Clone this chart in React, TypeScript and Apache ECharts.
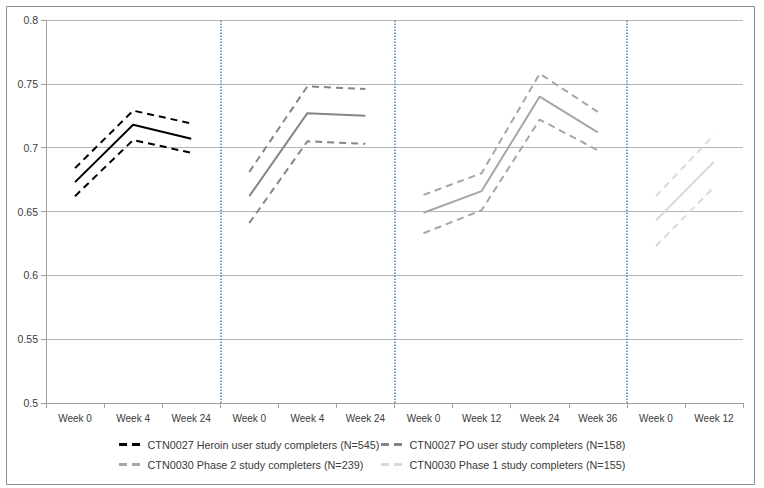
import React, { useEffect, useRef } from "react";
import * as echarts from "echarts";

const categories = [
  "Week 0", "Week 4", "Week 24",
  "Week 0", "Week 4", "Week 24",
  "Week 0", "Week 12", "Week 24", "Week 36",
  "Week 0", "Week 12",
];

const groupNames = [
  "CTN0027 Heroin user study completers (N=545)",
  "CTN0027 PO user study completers (N=158)",
  "CTN0030 Phase 2 study completers (N=239)",
  "CTN0030 Phase 1 study completers (N=155)",
];
const groupOffsets = [0, 3, 6, 10];
const groupColors = ["#000000", "#868686", "#a6a6a6", "#d9d9d9"];

const heroinMean = [0.673, 0.718, 0.707];
const heroinUpper = [0.684, 0.729, 0.719];
const heroinLower = [0.662, 0.706, 0.696];

const poMean = [0.662, 0.727, 0.725];
const poUpper = [0.681, 0.748, 0.746];
const poLower = [0.641, 0.705, 0.703];

const phase2Mean = [0.649, 0.666, 0.740, 0.712];
const phase2Upper = [0.663, 0.680, 0.758, 0.728];
const phase2Lower = [0.633, 0.651, 0.722, 0.698];

const phase1Mean = [0.643, 0.689];
const phase1Upper = [0.662, 0.710];
const phase1Lower = [0.623, 0.669];

const groupData = [
  [heroinMean, heroinUpper, heroinLower],
  [poMean, poUpper, poLower],
  [phase2Mean, phase2Upper, phase2Lower],
  [phase1Mean, phase1Upper, phase1Lower],
];

const yTicks = { min: 0.5, max: 0.8, interval: 0.05 };
// study boundaries, measured in category slots from the left edge
const dividerPositions = [3, 6, 10];

const FONT = "'Liberation Sans', Arial, sans-serif";
const TEXT_COLOR = "#3a3a3a";
const DASH_ICON = "path://M0,0h8v3h-8z M13,0h8v3h-8z";

function pad(values: number[], offset: number): (number | null)[] {
  const out: (number | null)[] = categories.map(() => null);
  values.forEach((v, i) => {
    out[offset + i] = v;
  });
  return out;
}

export default function App() {
  const ref = useRef<HTMLDivElement>(null);
  useEffect(() => {
    if (!ref.current) return;
    const chart = echarts.init(ref.current, undefined, { renderer: "svg" });
    const series: any[] = [];
    groupData.forEach((g, gi) => {
      const [mean, upper, lower] = g;
      const color = groupColors[gi];
      const off = groupOffsets[gi];
      series.push({
        name: groupNames[gi],
        type: "line",
        data: pad(upper, off),
        symbol: "none",
        lineStyle: { color, width: 2, type: [7, 5] },
        itemStyle: { color, borderWidth: 0 },
        z: 3,
      });
      series.push({
        name: groupNames[gi] + " lower",
        type: "line",
        data: pad(lower, off),
        symbol: "none",
        lineStyle: { color, width: 2, type: [7, 5] },
        itemStyle: { color },
        z: 3,
      });
      series.push({
        name: groupNames[gi] + " mean",
        type: "line",
        data: pad(mean, off),
        symbol: "none",
        lineStyle: { color, width: 2 },
        itemStyle: { color },
        z: 3,
      });
    });

    series.push({
      name: "dividers",
      type: "line",
      xAxisIndex: 1,
      data: [[0, null]],
      symbol: "none",
      silent: true,
      markLine: {
        silent: true,
        symbol: "none",
        label: { show: false },
        lineStyle: { color: "#4f81bd", type: [1.5, 1.5], width: 1.5 },
        data: dividerPositions.map((p) => ({ xAxis: p })),
      },
      z: 2,
    });

    const legendCommon = {
      orient: "vertical",
      top: 439,
      padding: 0,
      itemGap: 9,
      itemWidth: 26,
      itemHeight: 3,
      icon: DASH_ICON,
      itemStyle: { borderWidth: 0 },
      textStyle: { fontFamily: FONT, fontSize: 10.8, color: TEXT_COLOR },
      selectedMode: false,
    };

    chart.setOption({
      animation: false,
      backgroundColor: "#ffffff",
      grid: { left: 46, right: 21, top: 20, bottom: 85, containLabel: false },
      graphic: [
        {
          type: "rect",
          shape: { x: 6.5, y: 6.5, width: 748, height: 478 },
          style: { fill: "none", stroke: "#8f8f8f", lineWidth: 1 },
          silent: true,
        },
      ],
      legend: [
        { ...legendCommon, left: 119, data: [groupNames[0], groupNames[2]] },
        { ...legendCommon, left: 381, data: [groupNames[1], groupNames[3]] },
      ],
      xAxis: [
        {
          type: "category",
          data: categories,
          boundaryGap: true,
          axisLine: { show: true, lineStyle: { color: "#a0a0a0", width: 1 } },
          axisTick: { show: true, length: 5, lineStyle: { color: "#a0a0a0" } },
          axisLabel: {
            interval: 0,
            fontFamily: FONT,
            fontSize: 10,
            color: TEXT_COLOR,
            margin: 10,
          },
          splitLine: { show: false },
        },
        {
          type: "value",
          min: 0,
          max: categories.length,
          show: false,
          splitLine: { show: false },
        },
      ],
      yAxis: {
        type: "value",
        min: yTicks.min,
        max: yTicks.max,
        interval: yTicks.interval,
        axisLine: { show: true, lineStyle: { color: "#a0a0a0" } },
        axisTick: { show: true, length: 5, lineStyle: { color: "#a0a0a0" } },
        axisLabel: {
          fontFamily: FONT,
          fontSize: 10.5,
          color: TEXT_COLOR,
          margin: 8,
          formatter: (v: number) => String(Math.round(v * 100) / 100),
        },
        splitLine: { show: true, lineStyle: { color: "#b4b4b4", width: 1 } },
      },
      series,
    });
    return () => chart.dispose();
  }, []);
  return (
    <div
      ref={ref}
      style={{ position: "absolute", left: 0, top: 0, width: 764, height: 488 }}
    />
  );
}
